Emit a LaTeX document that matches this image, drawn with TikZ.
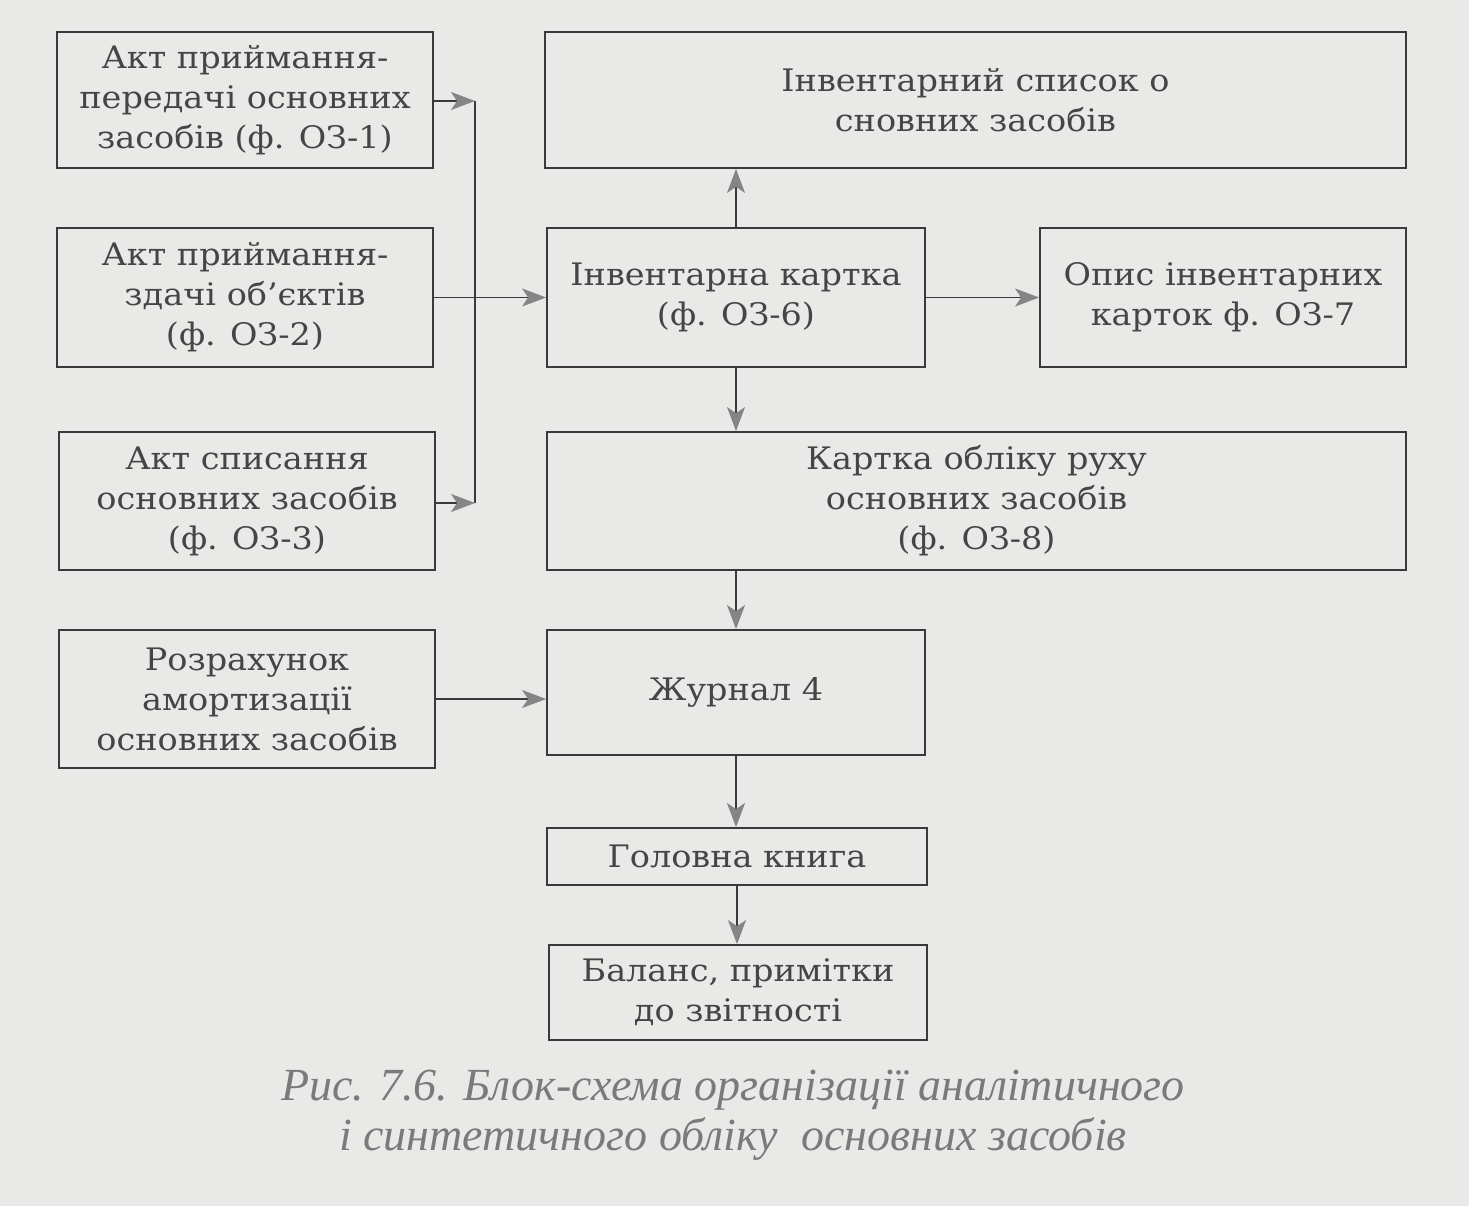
\documentclass[tikz,border=0pt]{standalone}
\usepackage{fontspec}
\setmainfont{DejaVu Serif}[FakeStretch=1.08]
\newfontfamily\capfont{Liberation Serif}
\usetikzlibrary{arrows.meta}
\definecolor{paper}{HTML}{E9E9E7}
\definecolor{ink}{HTML}{3A3A3A}
\definecolor{txt}{HTML}{454545}
\definecolor{capink}{HTML}{7A7A7A}
\definecolor{tipgray}{HTML}{858585}
\tikzset{
  box/.style={draw=ink, line width=1.8pt, text=txt, align=center, inner sep=0pt,
    font=\fontsize{31}{40}\selectfont},
  conn/.style={draw=ink, line width=1.4pt},
  arr/.style={conn, -{Stealth[length=24pt, width=18pt, inset=6pt, color=tipgray, fill=tipgray]}},
}
\begin{document}
\begin{tikzpicture}[x=1pt,y=-1pt]
\fill[paper] (0,0) rectangle (1469,1206);
\useasboundingbox (0,0) rectangle (1469,1206);
\node[box, minimum width=376pt, minimum height=136pt] (b1) at (245,100) {Акт приймання-\\передачі основних\\засобів (ф. ОЗ-1)};
\node[box, minimum width=376pt, minimum height=139pt] (b2) at (245,297.5) {Акт приймання-\\здачі об'єктів\\(ф. ОЗ-2)};
\node[box, minimum width=376pt, minimum height=138pt] (b3) at (247,501) {Акт списання\\основних засобів\\(ф. ОЗ-3)};
\node[box, minimum width=376pt, minimum height=138pt] (b4) at (247,699) {Розрахунок\\амортизації\\основних засобів};
\node[box, minimum width=861pt, minimum height=136pt] (list) at (975.5,100) {Інвентарний список о\\сновних засобів};
\node[box, minimum width=378pt, minimum height=139pt] (kart) at (736,297.5) {Інвентарна картка\\(ф. ОЗ-6)};
\node[box, minimum width=366pt, minimum height=139pt] (opys) at (1223,297.5) {Опис інвентарних\\карток ф. ОЗ-7};
\node[box, minimum width=859pt, minimum height=138pt] (ruh) at (976.5,501) {Картка обліку руху\\основних засобів\\(ф. ОЗ-8)};
\node[box, minimum width=378pt, minimum height=125pt] (zh) at (736,692.5) {Журнал 4};
\node[box, minimum width=380pt, minimum height=57pt] (gk) at (737,856.5) {Головна книга};
\node[box, minimum width=378pt, minimum height=95pt] (bal) at (738,992.5) {Баланс, примітки\\до звітності};
\coordinate (bustop) at (475,101);
\coordinate (busbot) at (475,503);
\draw[conn] (bustop) -- (busbot);
\draw[arr] (b1.east |- bustop) -- (bustop);
\draw[arr] (b3.east |- busbot) -- (busbot);
\draw[arr] (b2.east) -- (kart.west);
\draw[arr] (b4.east) -- (b4.east -| zh.west);
\draw[arr] (kart.north) -- (kart.north |- list.south);
\draw[arr] (kart.east) -- (opys.west);
\draw[arr] (kart.south) -- (kart.south |- ruh.north);
\draw[arr] (zh.north |- ruh.south) -- (zh.north);
\draw[arr] (zh.south) -- (zh.south |- gk.north);
\draw[arr] (gk.south) -- (gk.south |- bal.north);
\node[text=capink, align=center, font=\capfont\itshape\fontsize{46}{50}\selectfont] (cap) at (733,1115) {Рис. 7.6. Блок-схема організації аналітичного\\і синтетичного обліку\ \ основних засобів};
\end{tikzpicture}
\end{document}
